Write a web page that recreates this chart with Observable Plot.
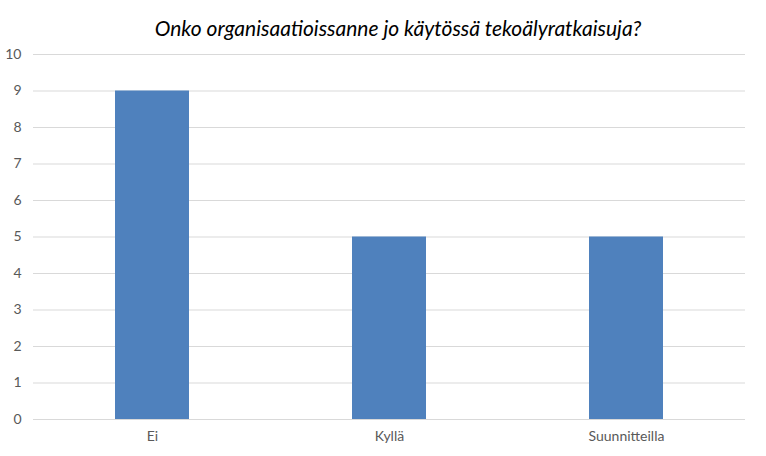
<!DOCTYPE html>
<html><head><meta charset="utf-8">
<script src="https://cdn.jsdelivr.net/npm/d3@7"></script>
<script src="https://cdn.jsdelivr.net/npm/@observablehq/plot@0.6"></script>
<style>
body{margin:0;background:#fff;font-family:Lato,"Open Sans",sans-serif;}
#title{height:44px;line-height:56px;text-align:center;font-style:italic;font-size:21px;color:#000;padding-left:30px;box-sizing:border-box;width:766px;}
</style></head><body>
<div id="title">Onko organisaatioissanne jo käytössä tekoälyratkaisuja?</div>
<div id="chart"></div>
<script>
const categories = ["Ei", "Kyllä", "Suunnitteilla"];
const values = [9, 5, 5];
const yTicks = [0,1,2,3,4,5,6,7,8,9,10];
const data = categories.map((c,i)=>({category:c, value:values[i]}));
const chart = Plot.plot({
  width: 766, height: 412,
  marginTop: 10, marginBottom: 37, marginLeft: 33, marginRight: 21,
  style: {fontFamily: "Lato, 'Open Sans', sans-serif", fontSize: "14px", color: "#595959", background: "#fff"},
  x: {domain: categories, paddingInner: 0.688, paddingOuter: 0.344, label: null, tickSize: 0, tickPadding: 12},
  y: {domain: [0,10], ticks: yTicks, label: null, tickSize: 0, tickPadding: 12, tickFormat: d=>d},
  marks: [
    Plot.ruleY(yTicks, {stroke: "#d9d9d9", strokeWidth: 1}),
    Plot.barY(data, {x: "category", y: "value", fill: "#4F81BD"})
  ]
});
document.getElementById("chart").appendChild(chart);
</script></body></html>
